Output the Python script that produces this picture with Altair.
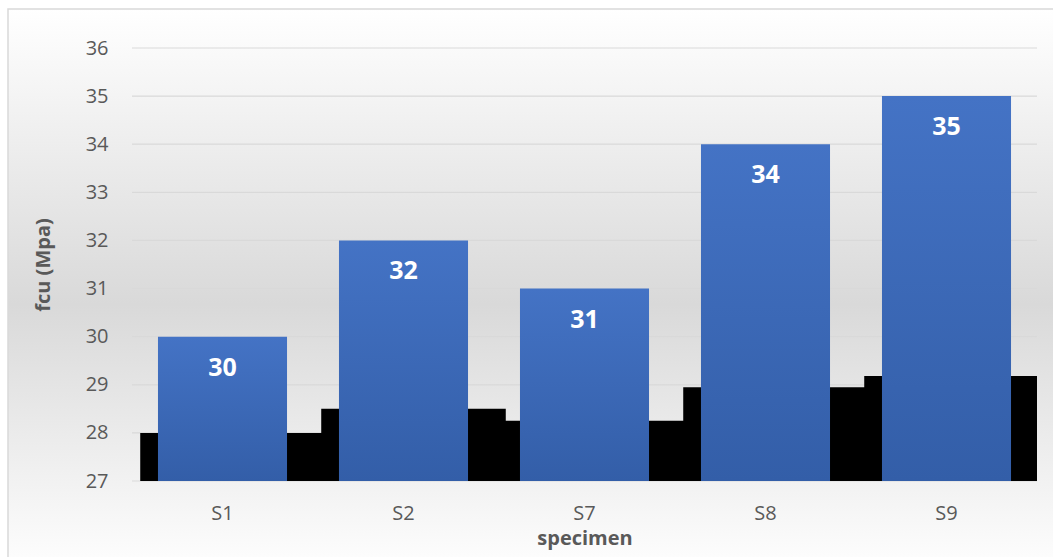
import altair as alt
import pandas as pd

specimens = ["S1", "S2", "S7", "S8", "S9"]
fcu = [30, 32, 31, 34, 35]
shadow = [28, 28.5, 28.25, 28.95, 29.18]
y_ticks = [27, 28, 29, 30, 31, 32, 33, 34, 35, 36]

df = pd.DataFrame({"specimen": specimens, "fcu": fcu, "shadow": shadow})
grid_df = pd.DataFrame({"v": y_ticks})

W, H = 905, 433
PAD = {"left": 132, "top": 48, "right": 16, "bottom": 76}

FONT = "Open Sans"
GRAY = "#595959"

x_enc = alt.X(
    "specimen:N",
    sort=specimens,
    scale=alt.Scale(paddingInner=0.287, paddingOuter=0.1435),
    axis=alt.Axis(
        title="specimen",
        labelAngle=0,
        labelFont=FONT,
        labelFontSize=20,
        labelColor=GRAY,
        labelPadding=22,
        titleFont=FONT,
        titleFontSize=20,
        titleFontWeight="bold",
        titleColor=GRAY,
        titlePadding=5,
        ticks=False,
        domain=False,
        grid=False,
        zindex=1,
    ),
)

y_scale = alt.Scale(domain=[27, 36], nice=False, zero=False)
y_axis = alt.Axis(
    title="fcu (Mpa)",
    values=y_ticks,
    format="d",
    labelFont=FONT,
    labelFontSize=20,
    labelColor=GRAY,
    labelPadding=24,
    titleFont=FONT,
    titleFontSize=20,
    titleFontWeight="bold",
    titleColor=GRAY,
    titlePadding=32,
    ticks=False,
    domain=False,
    grid=False,
    zindex=1,
)

bg_gradient = alt.Gradient(
    gradient="linear",
    stops=[
        alt.GradientStop(color="#ffffff", offset=0),
        alt.GradientStop(color="#d9d9d9", offset=0.52),
        alt.GradientStop(color="#ffffff", offset=1),
    ],
    x1=0, x2=0, y1=0, y2=1,
)

background = alt.Chart(pd.DataFrame({"a": [0]})).mark_rect(
    fill=bg_gradient, stroke="#d9d9d9", strokeWidth=1.5, clip=False
).encode(
    x=alt.value(-124),
    x2=alt.value(W + PAD["right"] + 20),
    y=alt.value(-39),
    y2=alt.value(H + PAD["bottom"] + 20),
)

grid = alt.Chart(grid_df).mark_rule(color="#d9d9d9", strokeWidth=1.2).encode(
    y=alt.Y("v:Q", scale=y_scale, axis=y_axis),
)

black = alt.Chart(df).mark_bar(
    color="#000000", width=alt.RelativeBandSize(1.43), xOffset=10, clip=True
).encode(
    x=x_enc,
    y=alt.Y("shadow:Q", scale=y_scale, axis=y_axis),
    y2=alt.datum(27),
)

bar_gradient = alt.Gradient(
    gradient="linear",
    stops=[
        alt.GradientStop(color="#4473c5", offset=0),
        alt.GradientStop(color="#335ea8", offset=1),
    ],
    x1=0, x2=0, y1=0, y2=1,
)

bars = alt.Chart(df).mark_bar(fill=bar_gradient).encode(
    x=x_enc,
    y=alt.Y("fcu:Q", scale=y_scale, axis=y_axis),
    y2=alt.datum(27),
)

labels = alt.Chart(df).mark_text(
    font=FONT, fontSize=25, fontWeight="bold", color="white",
    baseline="alphabetic", dy=39,
).encode(
    x=x_enc,
    y=alt.Y("fcu:Q", scale=y_scale, axis=y_axis),
    text=alt.Text("fcu:Q", format="d"),
)

chart = alt.layer(background, grid, black, bars, labels).properties(
    width=W,
    height=H,
    padding=PAD,
    autosize=alt.AutoSizeParams(type="none"),
    background="#ffffff",
).configure_view(stroke=None)

chart.save("out.html", embed_options={"renderer": "svg", "actions": False})
